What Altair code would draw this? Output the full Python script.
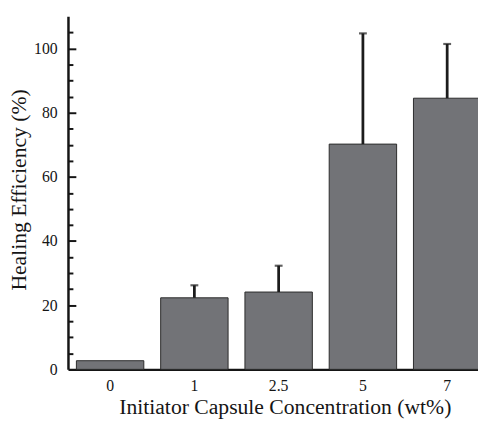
import altair as alt
import pandas as pd

concentrations = ["0", "1", "2.5", "5", "7"]
efficiency = [2.7, 22.3, 24.1, 70.2, 84.5]
error_up = [0.0, 3.9, 8.2, 34.5, 16.9]

y_labels = [0, 20, 40, 60, 80, 100]
y_major = [20, 40, 60, 80, 100]
y_minor = [5, 10, 15, 25, 30, 35, 45, 50, 55, 65, 70, 75, 85, 90, 95, 105]

FONT = "Liberation Serif"
INK = "#151515"

df = pd.DataFrame({"conc": concentrations, "eff": efficiency, "err": error_up})
df["top"] = df["eff"] + df["err"]
err_df = df[df["err"] > 0]

x_enc = alt.X(
    "conc:N",
    sort=concentrations,
    scale=alt.Scale(paddingInner=0.2, paddingOuter=0.1, range=[0, 428.5]),
    axis=alt.Axis(
        title="Initiator Capsule Concentration (wt%)",
        labelAngle=0,
        ticks=False,
        grid=False,
        domainColor=INK,
        domainWidth=2.5,
        labelFont=FONT,
        labelFontSize=16,
        labelColor=INK,
        labelPadding=8,
        titleFont=FONT,
        titleFontSize=22,
        titleFontWeight="normal",
        titleColor=INK,
        titleBaseline="alphabetic",
        titleX=220.5,
        titleY=44.7,
    ),
)

y_scale = alt.Scale(domain=[0, 110], nice=False, zero=True)

bars = alt.Chart(df).mark_bar(
    color="#727377", stroke="#2b2b2b", strokeWidth=1
).encode(
    x=x_enc,
    y=alt.Y(
        "eff:Q",
        scale=y_scale,
        axis=alt.Axis(
            orient="left",
            values=y_labels,
            title="Healing Efficiency (%)",
            ticks=False,
            grid=False,
            domainColor=INK,
            domainWidth=2.5,
            labelFont=FONT,
            labelFontSize=16,
            labelColor=INK,
            labelPadding=11,
            titleFont=FONT,
            titleFontSize=22,
            titleFontWeight="normal",
            titleColor=INK,
            titleBaseline="alphabetic",
            titleAngle=270,
            titleX=-43,
            titleY=176,
        ),
    ),
)

rules = alt.Chart(err_df).mark_rule(color="#1c1c1c", strokeWidth=2.8).encode(
    x=x_enc,
    y=alt.Y(
        "eff:Q",
        scale=y_scale,
        axis=alt.Axis(
            orient="left",
            values=y_major,
            title=None,
            labels=False,
            domain=False,
            grid=False,
            ticks=True,
            tickSize=8,
            tickWidth=2,
            tickColor=INK,
            offset=-8,
        ),
    ),
    y2="top:Q",
)

caps = alt.Chart(err_df).mark_tick(
    color="#1c1c1c", size=8, thickness=2.2, orient="horizontal"
).encode(
    x=x_enc,
    y=alt.Y(
        "top:Q",
        scale=y_scale,
        axis=alt.Axis(
            orient="left",
            values=y_minor,
            title=None,
            labels=False,
            domain=False,
            grid=False,
            ticks=True,
            tickSize=5,
            tickWidth=2,
            tickColor=INK,
            offset=-5,
        ),
    ),
)

chart = (
    alt.layer(bars, rules, caps)
    .resolve_scale(y="shared")
    .resolve_axis(y="independent")
    .properties(
        width=417,
        height=359,
        padding={"left": 61, "top": 5, "right": 0, "bottom": 50},
        autosize=alt.AutoSizeParams(type="none"),
        background="white",
    )
    .configure_view(stroke=None)
)

chart.save("out.html", embed_options={"renderer": "svg", "actions": False})
